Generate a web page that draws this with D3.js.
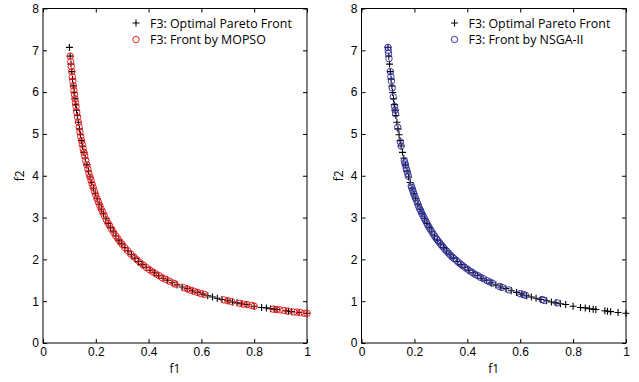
<!DOCTYPE html>
<html>
<head>
<meta charset="utf-8">
<script src="https://cdn.jsdelivr.net/npm/d3@7"></script>
<style>
  body { margin: 0; background: #fff; }
  svg { display: block; font-family: "Open Sans", "Liberation Sans", sans-serif; }
  .tick text { font-size: 12px; fill: #000; }
  .tick line { stroke: #000; }
</style>
</head>
<body>
<div id="chart"></div>
<script>
// F3 optimal Pareto front
var paretoF1 = [0.100,0.103,0.106,0.109,0.112,0.115,0.118,0.121,0.124,0.127,0.130,0.134,0.138,0.142,0.146,0.150,0.155,0.160,0.166,0.172,0.178,0.184,0.191,0.198,0.205,0.213,0.221,0.229,0.238,0.247,0.256,0.266,0.276,0.287,0.298,0.310,0.322,0.335,0.348,0.362,0.376,0.391,0.406,0.422,0.438,0.455,0.472,0.490,0.508,0.527,0.546,0.566,0.586,0.606,0.624,0.642,0.660,0.678,0.700,0.718,0.735,0.752,0.772,0.800,0.828,0.846,0.862,0.876,0.886,0.920,0.930,0.942,0.970,1.000];
var paretoF2 = [7.07,6.86,6.67,6.49,6.31,6.15,5.99,5.84,5.70,5.57,5.44,5.28,5.12,4.98,4.84,4.71,4.56,4.42,4.26,4.11,3.97,3.84,3.70,3.57,3.45,3.32,3.20,3.09,2.97,2.86,2.76,2.66,2.56,2.46,2.37,2.28,2.20,2.11,2.03,1.95,1.88,1.81,1.74,1.68,1.61,1.55,1.50,1.44,1.39,1.34,1.30,1.25,1.21,1.17,1.13,1.10,1.07,1.04,1.01,0.98,0.96,0.94,0.92,0.88,0.85,0.84,0.82,0.81,0.80,0.77,0.76,0.75,0.73,0.71];

// front found by MOPSO
var mopsoF1 = [0.103,0.105,0.107,0.109,0.111,0.113,0.115,0.117,0.119,0.121,0.123,0.125,0.128,0.131,0.134,0.137,0.140,0.143,0.146,0.149,0.152,0.155,0.158,0.162,0.166,0.170,0.174,0.178,0.182,0.186,0.190,0.195,0.200,0.205,0.210,0.215,0.220,0.226,0.232,0.240,0.246,0.252,0.260,0.268,0.276,0.284,0.292,0.300,0.310,0.320,0.332,0.344,0.356,0.368,0.380,0.392,0.404,0.416,0.428,0.440,0.452,0.465,0.478,0.496,0.500,0.535,0.548,0.560,0.572,0.585,0.598,0.612,0.685,0.700,0.715,0.745,0.758,0.772,0.790,0.800,0.872,0.885,0.898,0.912,0.928,0.950,0.962,0.975,0.990,1.000];
var mopsoF2 = [6.86,6.73,6.61,6.49,6.37,6.26,6.15,6.04,5.94,5.84,5.75,5.66,5.52,5.40,5.28,5.16,5.05,4.94,4.84,4.75,4.65,4.56,4.48,4.36,4.26,4.16,4.06,3.97,3.89,3.80,3.72,3.63,3.54,3.45,3.37,3.29,3.21,3.13,3.05,2.95,2.87,2.81,2.72,2.64,2.56,2.49,2.42,2.36,2.28,2.21,2.13,2.06,1.99,1.92,1.86,1.80,1.75,1.70,1.65,1.61,1.56,1.52,1.48,1.43,1.41,1.32,1.29,1.26,1.24,1.21,1.18,1.16,1.03,1.01,0.99,0.95,0.93,0.92,0.90,0.88,0.81,0.80,0.79,0.78,0.76,0.74,0.74,0.73,0.71,0.71];

// front found by NSGA-II
var nsgaF1 = [0.100,0.101,0.102,0.104,0.109,0.111,0.113,0.116,0.120,0.125,0.127,0.129,0.137,0.147,0.150,0.162,0.164,0.166,0.169,0.171,0.174,0.177,0.188,0.190,0.193,0.196,0.199,0.203,0.207,0.212,0.216,0.220,0.224,0.228,0.232,0.236,0.240,0.245,0.250,0.255,0.260,0.266,0.272,0.278,0.284,0.290,0.296,0.302,0.308,0.315,0.322,0.329,0.336,0.343,0.350,0.358,0.366,0.374,0.382,0.390,0.400,0.410,0.420,0.430,0.440,0.450,0.460,0.475,0.485,0.495,0.522,0.532,0.558,0.600,0.612,0.620,0.683,0.690,0.740];
var nsgaF2 = [7.07,7.00,6.93,6.80,6.49,6.37,6.26,6.10,5.89,5.66,5.57,5.48,5.16,4.81,4.71,4.36,4.31,4.26,4.18,4.13,4.06,3.99,3.76,3.72,3.66,3.61,3.55,3.48,3.42,3.34,3.27,3.21,3.16,3.10,3.05,3.00,2.95,2.89,2.83,2.77,2.72,2.66,2.60,2.54,2.49,2.44,2.39,2.34,2.30,2.24,2.20,2.15,2.10,2.06,2.02,1.98,1.93,1.89,1.85,1.81,1.77,1.72,1.68,1.64,1.61,1.57,1.54,1.49,1.46,1.43,1.35,1.33,1.27,1.18,1.16,1.14,1.04,1.02,0.96];

var xTicks = [0, 0.2, 0.4, 0.6, 0.8, 1];
var xTickLabels = ["0", "0.2", "0.4", "0.6", "0.8", "1"];
var yTicks = [0, 1, 2, 3, 4, 5, 6, 7, 8];

var panels = [
  {left: 43, right: 307, f1: mopsoF1, f2: mopsoF2, color: "#f01e1e", name: "F3: Front by MOPSO"},
  {left: 361.5, right: 626, f1: nsgaF1, f2: nsgaF2, color: "#3434a0", name: "F3: Front by NSGA-II"}
];
var plotTop = 8.5, plotBottom = 343;

var width = 639, height = 382;
var svg = d3.select("#chart").append("svg")
    .attr("width", width)
    .attr("height", height);

function zip(a, b) { return a.map(function(v, i) { return [v, b[i]]; }); }

panels.forEach(function(p) {
  var x = d3.scaleLinear().domain([0, 1]).range([p.left, p.right]);
  var y = d3.scaleLinear().domain([0, 8]).range([plotBottom, plotTop]);
  var g = svg.append("g");

  // ticks on all four sides, pointing inward
  g.append("g").attr("transform", "translate(0," + plotBottom + ")")
    .call(d3.axisBottom(x).tickValues(xTicks).tickFormat(function(d, i) { return xTickLabels[i]; }).tickSize(-4).tickPadding(4))
    .call(function(a) { a.select(".domain").remove(); });
  g.append("g").attr("transform", "translate(0," + plotTop + ")")
    .call(d3.axisTop(x).tickValues(xTicks).tickFormat("").tickSize(-4))
    .call(function(a) { a.select(".domain").remove(); });
  g.append("g").attr("transform", "translate(" + p.left + ",0)")
    .call(d3.axisLeft(y).tickValues(yTicks).tickSize(-4).tickPadding(4))
    .call(function(a) { a.select(".domain").remove(); });
  g.append("g").attr("transform", "translate(" + p.right + ",0)")
    .call(d3.axisRight(y).tickValues(yTicks).tickFormat("").tickSize(-4))
    .call(function(a) { a.select(".domain").remove(); });

  g.append("rect")
    .attr("x", p.left).attr("y", plotTop)
    .attr("width", p.right - p.left).attr("height", plotBottom - plotTop)
    .attr("fill", "none").attr("stroke", "#000").attr("stroke-width", 1);

  // optimal front: plus markers
  g.append("g").selectAll("path")
    .data(zip(paretoF1, paretoF2))
    .enter().append("path")
      .attr("d", function(d) {
        var cx = x(d[0]), cy = y(d[1]);
        return "M" + (cx - 3.5) + "," + cy + "H" + (cx + 3.5) + "M" + cx + "," + (cy - 3.5) + "V" + (cy + 3.5);
      })
      .attr("stroke", "#000").attr("stroke-width", 1.1).attr("fill", "none");

  // algorithm front: open circles
  g.append("g").selectAll("circle")
    .data(zip(p.f1, p.f2))
    .enter().append("circle")
      .attr("cx", function(d) { return x(d[0]); })
      .attr("cy", function(d) { return y(d[1]); })
      .attr("r", 3.2)
      .attr("fill", "none")
      .attr("stroke", p.color).attr("stroke-width", 1);

  // axis labels
  g.append("text")
    .attr("x", (p.left + p.right) / 2).attr("y", 373)
    .attr("text-anchor", "middle").attr("font-size", 12)
    .text("f1");
  g.append("text")
    .attr("transform", "translate(" + (p.left - 19) + "," + ((plotTop + plotBottom) / 2) + ") rotate(-90)")
    .attr("text-anchor", "middle").attr("font-size", 12)
    .text("f2");

  // legend (no box)
  var lx = p.left + 93;
  var leg = g.append("g").attr("font-size", 12.4);
  leg.append("path")
    .attr("d", "M" + (lx - 3.5) + ",23H" + (lx + 3.5) + "M" + lx + ",19.5V26.5")
    .attr("stroke", "#000").attr("stroke-width", 1.1);
  leg.append("text").attr("x", lx + 14).attr("y", 27.5).text("F3: Optimal Pareto Front");
  leg.append("circle").attr("cx", lx).attr("cy", 39.5).attr("r", 3.2)
    .attr("fill", "none").attr("stroke", p.color).attr("stroke-width", 1);
  leg.append("text").attr("x", lx + 14).attr("y", 44).text(p.name);
});
</script>
</body>
</html>
